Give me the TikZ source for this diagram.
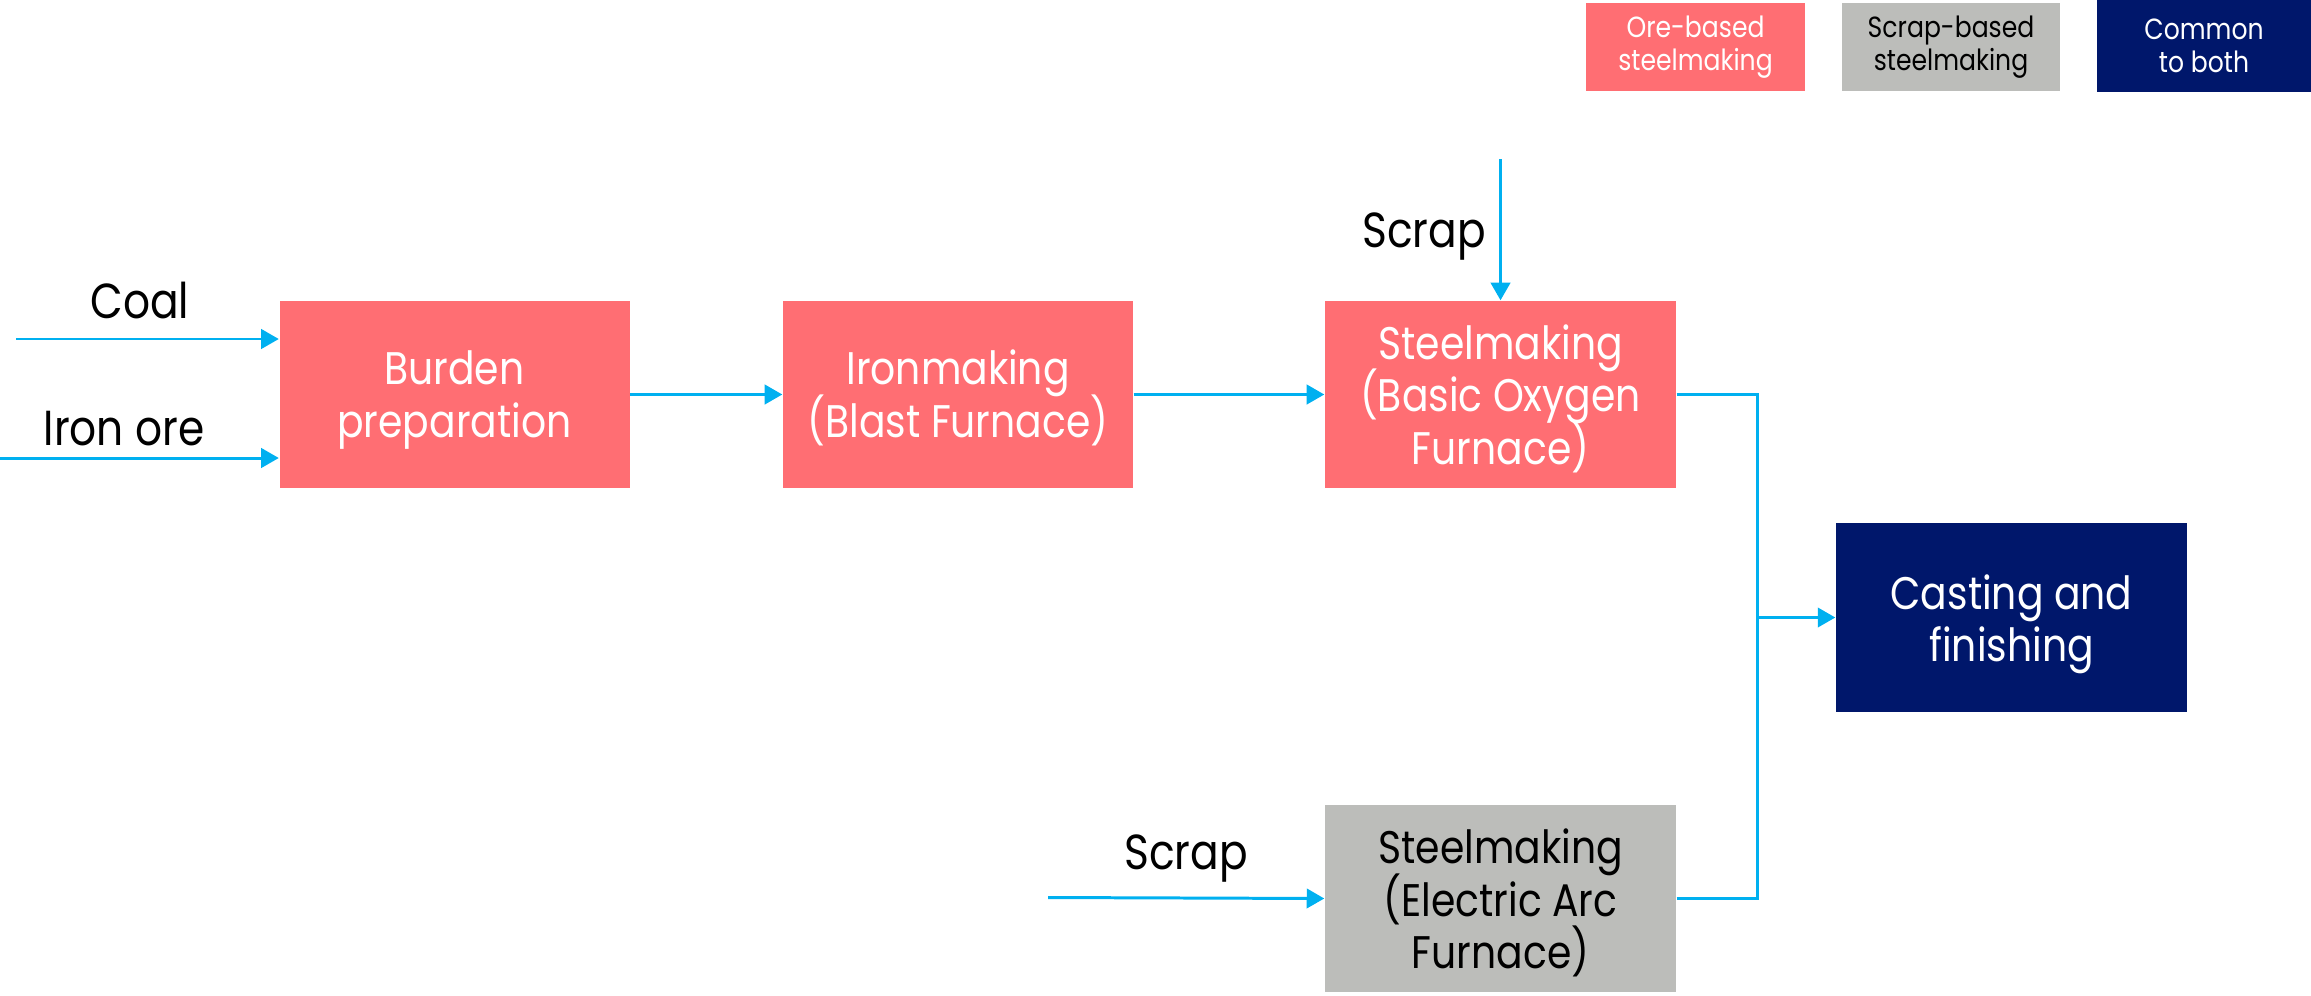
\documentclass[tikz,border=0pt]{standalone}
\usepackage{fontspec}
\setmainfont{Poppins}[FakeStretch=0.86]
\usetikzlibrary{arrows.meta}
\definecolor{ore}{HTML}{FF6E73}
\definecolor{scrapc}{HTML}{BCBDBA}
\definecolor{common}{HTML}{00176B}
\definecolor{flowc}{HTML}{00B0F0}
\newlength{\pxu}
\setlength{\pxu}{0.1mm}
\newcommand{\boxfont}{\fontsize{13}{14.8}\selectfont\setlength{\lineskiplimit}{-30pt}}
\newcommand{\legfont}{\fontsize{8.3}{9.2}\selectfont\setlength{\lineskiplimit}{-30pt}}
\tikzset{
  box/.style={rectangle, inner sep=0pt, align=center, minimum width=350\pxu, minimum height=187\pxu, font=\boxfont},
  twol/.style={text height=8.5mm, text depth=0pt},
  threel/.style={text height=13.9mm, text depth=0pt},
  orebox/.style={box, fill=ore, text=white},
  scrapbox/.style={box, fill=scrapc, text=black},
  commonbox/.style={box, fill=common, text=white},
  legbox/.style={rectangle, inner sep=0pt, align=center, minimum height=88\pxu, font=\legfont},
  lbl/.style={font=\fontsize{14}{16}\selectfont, text=black, inner sep=0pt},
  flow/.style={draw=flowc, line width=0.85pt, -{Triangle[length=5pt,width=5.5pt]}},
  line/.style={draw=flowc, line width=0.85pt}
}
\begin{document}
\begin{tikzpicture}[x=0.1mm,y=-0.1mm]
\useasboundingbox (0,0) rectangle (2311,995);
% legend
\node[legbox, fill=ore, text=white, minimum width=219\pxu] (lore) at (1695.5,47) {Ore-based\\steelmaking};
\node[legbox, fill=scrapc, text=black, minimum width=218\pxu] (lscrap) at (1951,47) {Scrap-based\\steelmaking};
\node[legbox, fill=common, text=white, minimum width=214\pxu, minimum height=92\pxu] (lcommon) at (2204,46) {Common\\to both};
% boxes
\node[orebox, twol] (burden) at (454.5,394.5) {Burden\\preparation};
\node[orebox, twol] (iron) at (958,394.5) {Ironmaking\\(Blast Furnace)};
\node[orebox, threel, minimum width=351\pxu] (bof) at (1500.5,394.5) {Steelmaking\\(Basic Oxygen\\Furnace)};
\node[commonbox, twol, text height=8.8mm, minimum width=351\pxu, minimum height=189\pxu] (cast) at (2011.5,617.5) {Casting and\\finishing};
\node[scrapbox, threel, minimum width=351\pxu] (eaf) at (1500.5,898.5) {Steelmaking\\(Electric Arc\\Furnace)};
% labels
\node[lbl] (lcoal) at (140,301) {Coal};
\node[lbl] (liron) at (124,429) {Iron ore};
\node[lbl] (lscr1) at (1424,237) {Scrap};
\node[lbl] (lscr2) at (1186,859) {Scrap};
% free ends
\coordinate (coalS) at (16,339);
\coordinate (ironS) at (0,458);
\coordinate (scrT) at (1500.5,159);
\coordinate (scrB) at (1048,897.5);
\coordinate (j) at (1757,617.5);
% connectors
\draw[flow] (coalS) -- (coalS -| burden.west);
\draw[flow] (ironS) -- (ironS -| burden.west);
\draw[flow] (burden.east) -- (iron.west);
\draw[flow] (iron.east) -- (bof.west);
\draw[flow] (scrT) -- (bof.north);
\draw[flow] (scrB) -- (eaf.west);
\draw[line] (bof.east) -| (j);
\draw[line] (eaf.east) -| (j);
\draw[flow] (j) -- (cast.west);
\end{tikzpicture}
\end{document}
